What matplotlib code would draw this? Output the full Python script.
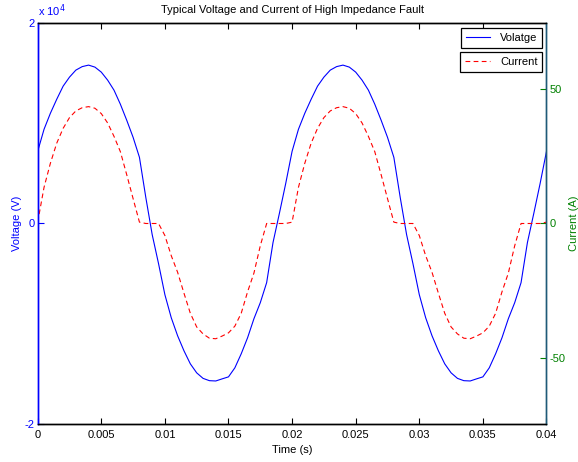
import matplotlib
matplotlib.use("Agg")
import matplotlib.pyplot as plt
import numpy as np

plt.rcParams['font.family'] = ['Liberation Sans', 'DejaVu Sans']
plt.rcParams['axes.unicode_minus'] = False

# sample times in ms (0.5 ms spacing)
t_ms = np.arange(0, 40.5, 0.5)

# voltage in units of 1e4 V
voltage = [0.72, 0.94, 1.10, 1.24, 1.37, 1.46, 1.53, 1.565, 1.58, 1.56,
           1.51, 1.43, 1.33, 1.19, 1.03, 0.86, 0.66, 0.26, -0.11, -0.40,
           -0.71, -0.94, -1.12, -1.27, -1.40, -1.49, -1.545, -1.568, -1.571, -1.55,
           -1.53, -1.44, -1.30, -1.14, -0.95, -0.79, -0.59, -0.19, 0.10, 0.40,
           0.72, 0.94, 1.10, 1.24, 1.37, 1.46, 1.53, 1.565, 1.58, 1.56,
           1.51, 1.43, 1.33, 1.19, 1.03, 0.86, 0.66, 0.26, -0.11, -0.40,
           -0.71, -0.94, -1.12, -1.27, -1.40, -1.49, -1.545, -1.568, -1.571, -1.55,
           -1.53, -1.44, -1.30, -1.14, -0.95, -0.79, -0.59, -0.19, 0.10, 0.40,
           0.72]

# current in A
current = [0.5, 13.5, 22.5, 30, 35.5, 39.5, 42, 43.2, 43.6, 43,
           41, 37.5, 32.5, 26.8, 18.2, 9.3, 0.5, 0, 0, 0,
           -4.5, -12, -18.2, -26, -33.5, -38.6, -41.2, -42.8, -43, -42,
           -40.8, -38.3, -33.5, -25.5, -18.5, -8.3, 0, 0, 0, 0,
           0.5, 13.5, 22.5, 30, 35.5, 39.5, 42, 43.2, 43.6, 43,
           41, 37.5, 32.5, 26.8, 18.2, 9.3, 0.5, 0, 0, 0,
           -4.5, -12, -18.2, -26, -33.5, -38.6, -41.2, -42.8, -43, -42,
           -40.8, -38.3, -33.5, -25.5, -18.5, -8.3, 0, 0, 0, 0,
           0.5]

x_ticks = [0, 0.005, 0.01, 0.015, 0.02, 0.025, 0.03, 0.035, 0.04]
x_labels = ['0', '0.005', '0.01', '0.015', '0.02', '0.025', '0.03', '0.035', '0.04']

t = t_ms / 1000.0
green = (0, 0.5, 0)
fs = 8

fig = plt.figure(figsize=(5.78, 4.62), dpi=100)
ax1 = fig.add_axes([0.0652, 0.0823, 0.8803, 0.8679])
ax2 = ax1.twinx()

l1, = ax1.plot(t, voltage, color='blue', lw=0.8, label='Volatge')
l2, = ax2.plot(t, current, color='red', lw=0.8, dashes=(4.3, 3.0), label='Current')

ax1.set_xlim(0, 0.04)
ax1.set_ylim(-2, 2)
ax2.set_ylim(-74.8, 74.8)

ax1.set_xticks(x_ticks)
ax1.set_xticklabels(x_labels)
ax1.set_yticks([-2, 0, 2])
ax1.set_yticklabels(['-2', '0', '2'])
ax2.set_yticks([-50, 0, 50])

ax1.tick_params(axis='x', direction='in', length=4, top=True, labelsize=fs, colors='black', pad=4)
ax1.tick_params(axis='y', direction='in', length=4, labelsize=fs, colors='blue', pad=2)
ax2.tick_params(axis='y', direction='in', length=4, labelsize=fs, colors=green, pad=2)

for ax in (ax1, ax2):
    for s in ax.spines.values():
        s.set_linewidth(1.0)
ax1.spines['left'].set_color('blue')
ax2.spines['left'].set_color('blue')
ax1.spines['right'].set_color('#1f5a78')
ax2.spines['right'].set_color('#1f5a78')

ax1.set_xlabel('Time (s)', fontsize=fs, labelpad=4)
ax1.set_ylabel('Voltage (V)', fontsize=fs, color='blue', labelpad=2)
ax2.set_ylabel('Current (A)', fontsize=fs, color=green, labelpad=3)
ax1.set_title('Typical Voltage and Current of High Impedance Fault', fontsize=fs, pad=7)
ax1.text(0, 1.01, r'x 10$^4$', transform=ax1.transAxes, fontsize=fs, color='blue',
         ha='left', va='bottom')

leg1 = ax1.legend(handles=[l1], loc='upper right', bbox_to_anchor=(0.992, 0.988),
                  fontsize=fs, fancybox=False, edgecolor='black', framealpha=1,
                  borderpad=0.45, handlelength=2.2, handletextpad=0.9, borderaxespad=0)
leg1.get_frame().set_linewidth(0.9)
leg2 = ax2.legend(handles=[l2], loc='upper right', bbox_to_anchor=(0.992, 0.927),
                  fontsize=fs, fancybox=False, edgecolor='black', framealpha=1,
                  borderpad=0.45, handlelength=2.2, handletextpad=0.9, borderaxespad=0)
leg2.get_frame().set_linewidth(0.9)

fig.savefig('out.png', dpi=100)
